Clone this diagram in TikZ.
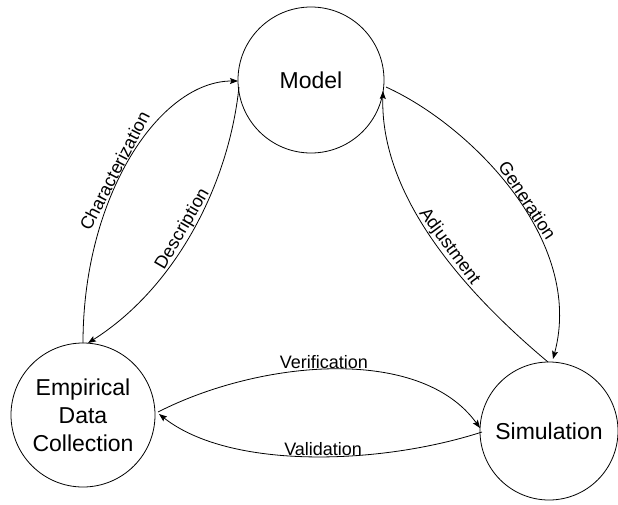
\documentclass[tikz,border=0pt]{standalone}
\usepackage{fontspec}
\setmainfont{Liberation Sans}
\usetikzlibrary{arrows.meta}
\begin{document}
\begin{tikzpicture}[x=1pt,y=-1pt,
  state/.style={circle,draw,line width=0.8pt,inner sep=0pt,font=\fontsize{23}{28}\selectfont,align=center},
  flow/.style={draw,line width=0.8pt,-{Stealth[length=8pt,width=6pt,inset=1.5pt]}},
  lbl/.style={font=\fontsize{18}{20}\selectfont,inner sep=0.5pt}]
\useasboundingbox (0,0) rectangle (618,504);
\node[state,minimum size=146pt] (model) at (311,80) {Model};
\node[state,minimum size=144pt] (emp) at (83,415) {Empirical\\Data\\Collection};
\node[state,minimum size=138pt] (sim) at (549,431) {Simulation};
\coordinate (mL1) at (238,81);
\coordinate (mL2) at (239,87);
\coordinate (mR1) at (386,87);
\coordinate (mR2) at (383,91);
\coordinate (eT1) at (83,343);
\coordinate (eT2) at (88,343);
\coordinate (eR1) at (158,412);
\coordinate (eR2) at (159,414);
\coordinate (sT1) at (553,359);
\coordinate (sT2) at (548,362);
\coordinate (sL1) at (480,428);
\coordinate (sL2) at (482,432);
\path[flow] (eT1) .. controls (83,195) and (160,81) .. (mL1)
  node[lbl,pos=0.44,sloped,above] {Characterization};
\path[flow] (mL2) .. controls (228,190) and (172,290) .. (eT2)
  node[lbl,pos=0.5,sloped,above] {Description};
\path[flow] (mR1) .. controls (470,125) and (585,240) .. (sT1)
  node[lbl,pos=0.54,sloped,above] {Generation};
\path[flow] (sT2) .. controls (462,290) and (380,195) .. (mR2)
  node[lbl,pos=0.45,sloped,above] {Adjustment};
\path[flow] (eR1) .. controls (260,360) and (420,345) .. (sL1)
  node[lbl,pos=0.47,above] {Verification};
\path[flow] (sL2) .. controls (380,465) and (230,470) .. (eR2)
  node[lbl,pos=0.46,above] {Validation};
\end{tikzpicture}
\end{document}
